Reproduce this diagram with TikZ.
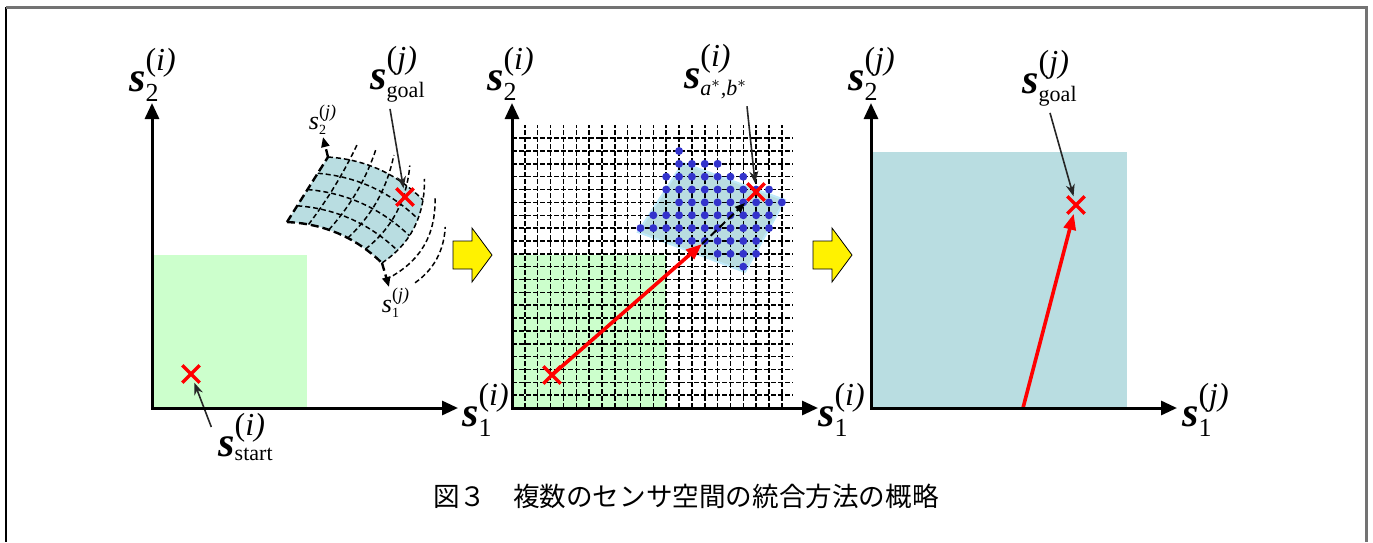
\documentclass[tikz,border=0pt]{standalone}
\usepackage{amsmath}
\usepackage{fontspec}
\setmainfont{Liberation Serif}
\newfontfamily\lbl{Liberation Serif}
\newfontfamily\cjk{Noto Sans CJK JP}
\usetikzlibrary{arrows.meta,shapes.misc}
\definecolor{spacegreen}{RGB}{204,255,204}
\definecolor{spaceblue}{RGB}{185,221,225}
\definecolor{dotblue}{RGB}{51,51,204}
\newcommand{\svar}[3][13]{{\lbl\fontsize{21}{24}\selectfont$\mbox{\lbl\bfseries\itshape s}_{\mbox{\lbl\fontsize{#1}{#1}\selectfont #2}}^{\mbox{\lbl\fontsize{16}{16}\selectfont(\itshape #3\/)}}$}}
\newcommand{\ssmall}[2]{{\lbl\fontsize{13}{15}\selectfont$\mbox{\lbl\itshape s}_{\mbox{\lbl\fontsize{7}{7}\selectfont #1}}^{\mbox{\lbl\fontsize{9}{9}\selectfont(\itshape #2\/)}}$}}
\begin{document}
\begin{tikzpicture}[x=0.5pt,y=-0.5pt,
    axis/.style={line width=1.5pt,{Triangle[length=8pt,width=7pt]}-{Triangle[length=8pt,width=7pt]}},
    cross/.style={cross out,draw=red,line width=1.7pt,minimum size=7pt,inner sep=0pt},
    pointer/.style={line width=0.8pt,black!85,-{Stealth[length=6pt,width=4.5pt]}},
    redarrow/.style={red,line width=1.8pt,-{Triangle[length=8pt,width=6pt]}},
    griddash/.style={dash pattern=on 2.5pt off 1pt,line width=0.75pt},
    patchline/.style={dash pattern=on 2.5pt off 1.5pt,line width=0.75pt},
    patchaxis/.style={dash pattern=on 4pt off 2pt,line width=1.2pt},
    yellowarrow/.style={fill=yellow,draw=black,line width=0.4pt},
    declare function={px(\pu,\pv)=287+95*\pu+41*\pv+16*\pu*(1-\pu)+28*\pv*(1-\pv)*\pu;
                      py(\pu,\pv)=222+41*\pu-65*\pv+2*\pu*\pv-36*\pu*(1-\pu)+17*\pv*(1-\pv)*\pu;}]
    \useasboundingbox (0,0) rectangle (1373,542);
    \draw[line width=1pt] (6,7) -- (6,542);
    \draw[black!55,line width=1.5pt] (6,7) -- (1366,7) -- (1366,542);

    \fill[spacegreen] (152,255) rectangle (307,408);
    \fill[spaceblue] plot[domain=0:1,samples=15] ({px(\x,0)},{py(\x,0)})
        -- plot[domain=0:1,samples=15] ({px(1,\x)},{py(1,\x)})
        -- plot[domain=1:0,samples=15] ({px(\x,1)},{py(\x,1)})
        -- plot[domain=1:0,samples=15] ({px(0,\x)},{py(0,\x)}) -- cycle;
    \foreach \vv in {0.25,0.5,0.75,1}
        \draw[patchline] plot[domain=0:1,samples=15] ({px(\x,\vv)},{py(\x,\vv)});
    \foreach \uu in {0.2,0.4,0.6,0.8,1}
        \draw[patchline] plot[domain=0:1.25,samples=15] ({px(\uu,\x)},{py(\uu,\x)});
    \foreach \uu/\va/\vb in {1.15/-0.1/1.2,1.3/0.15/1.0}
        \draw[patchline] plot[domain=\va:\vb,samples=15] ({px(\uu,\x)},{py(\uu,\x)});
    \draw[patchaxis] plot[domain=0:1,samples=15] ({px(\x,0)},{py(\x,0)});
    \draw[patchaxis] plot[domain=0:1,samples=15] ({px(0,\x)},{py(0,\x)});
    \coordinate (pB) at (382,263);
    \coordinate (pT) at (328,157);
    \coordinate (s1tip) at (389,287);
    \coordinate (s2tip) at (323,137);
    \draw[patchaxis,-{Triangle[length=5pt,width=4pt]}] (pB) -- (s1tip);
    \draw[patchaxis,-{Triangle[length=5pt,width=4pt]}] (pT) -- (s2tip);
    \node (s1jA) at (396,303) {\ssmall{1}{j}};
    \node (s2jA) at (323,120) {\ssmall{2}{j}};

    \node[cross] (startA) at (191,374) {};
    \node[cross] (goalA) at (405,197) {};
    \node (s2iA) at (153,75) {\svar{2}{i}};
    \node (s1iA) at (486,410) {\svar{1}{i}};
    \node (sstartA) at (246,437) {\svar[11]{start}{i}};
    \node (sgoalA) at (398,74) {\svar[11]{goal}{j}};
    \draw[pointer] ([yshift=5pt]sstartA.west) -- (startA);
    \draw[pointer] ([xshift=-4pt]sgoalA.south) -- (goalA);

    \foreach \dx in {0,360}
        \draw[yellowarrow] (453+\dx,241) -- (472+\dx,241) -- (472+\dx,228) -- (492+\dx,255)
            -- (472+\dx,282) -- (472+\dx,269) -- (453+\dx,269) -- cycle;

    \fill[spacegreen] (512,255) rectangle (666,408);
    \filldraw[fill=spaceblue,draw=cyan!25,line width=1pt] (638,232) -- (683,163) -- (785,200) -- (745,272) -- cycle;
    \foreach \k in {1,...,21}
        \draw[griddash] (512+12.85*\k,408) -- (512+12.85*\k,125);
    \foreach \m in {1,...,21}
        \draw[griddash] (512,408-12.85*\m) -- (793,408-12.85*\m);
    \foreach \m/\a/\b in {20/13/13,19/13/16,18/12/18,17/12/20,16/13/21,15/11/20,14/10/20,13/13/19,12/16/19,11/18/18}
        \foreach \k in {\a,...,\b}
            \fill[dotblue] (512+12.85*\k,408-12.85*\m) circle[radius=2pt];
    \node[cross] (startB) at (552,375) {};
    \node[cross] (goalB) at (756,192) {};
    \coordinate (viaB) at (702,244);
    \coordinate (aimB) at (745,203);
    \draw[redarrow] (startB.center) -- (viaB);
    \draw[dash pattern=on 4pt off 2pt,line width=1pt,-{Triangle[length=5pt,width=4pt]}] (viaB) -- (aimB);
    \node (s2iB) at (511,74) {\svar{2}{i}};
    \node (s1iB) at (842,410) {\svar{1}{i}};
    \node (sabB) at (716,72) {\svar[11]{\itshape a$^*$,b$^*$}{i}};
    \draw[pointer] ([xshift=-4pt]sabB.south east) -- (goalB);

    \fill[spaceblue] (871,152) rectangle (1127,409);
    \node[cross] (goalC) at (1076,205) {};
    \coordinate (baseC) at (1023,408);
    \draw[redarrow] (baseC) -- (goalC);
    \node (s2jC) at (872,74) {\svar{2}{j}};
    \node (s1jC) at (1206,410) {\svar{1}{j}};
    \node (sgoalC) at (1050,78) {\svar[11]{goal}{j}};
    \draw[pointer] (sgoalC.south) -- (goalC);

    \foreach \ox in {152,512,871}
        \draw[axis] (\ox,103) -- (\ox,408) -- (\ox+306,408);

    \node (caption) at (686,496) {\cjk\fontsize{13.3}{16}\selectfont 図３　複数のセンサ空間の統合方法の概略};
\end{tikzpicture}
\end{document}
